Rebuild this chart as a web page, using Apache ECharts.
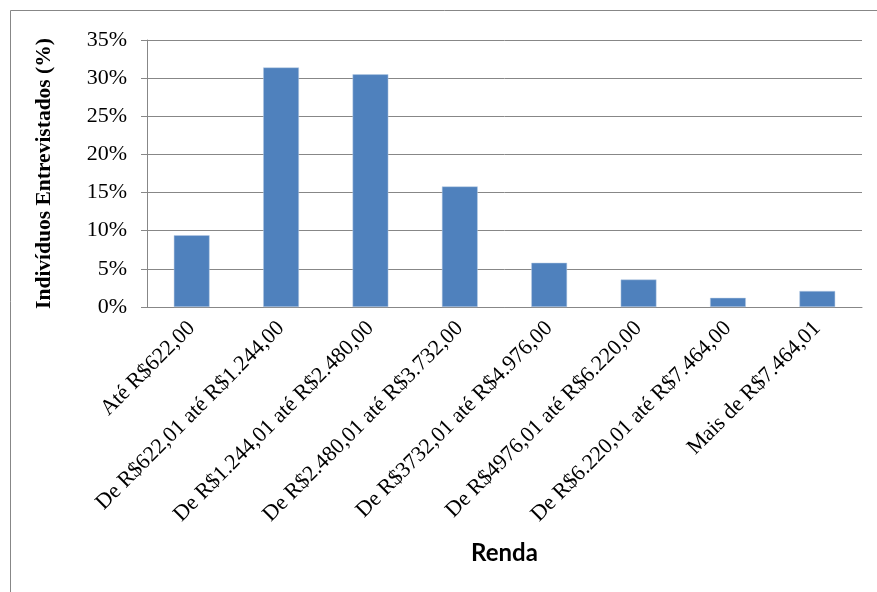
<!DOCTYPE html>
<html>
<head>
<meta charset="utf-8">
<script src="https://cdn.jsdelivr.net/npm/echarts@6/dist/echarts.min.js"></script>
<style>
  html, body { margin: 0; padding: 0; background: #fff; }
  #chart { width: 877px; height: 592px; }
  .preload { position: absolute; left: -9999px; top: -9999px; }
</style>
</head>
<body>
<div id="chart"></div>
<span class="preload" style="font-family:'Liberation Serif';">Até 35%</span>
<span class="preload" style="font-family:'Liberation Serif';font-weight:bold;">Indivíduos</span>
<span class="preload" style="font-family:Lato;font-weight:bold;">Renda</span>
<script>
// Income brackets (Renda) and the share of interviewees in each one (%)
const categories = [
  'Até R$622,00',
  'De R$622,01 até R$1.244,00',
  'De R$1.244,01 até R$2.480,00',
  'De R$2.480,01 até R$3.732,00',
  'De R$3732,01 até R$4.976,00',
  'De R$4976,01 até R$6.220,00',
  'De R$6.220,01 até R$7.464,00',
  'Mais de R$7.464,01'
];
const shares = [9.4, 31.4, 30.5, 15.8, 5.8, 3.6, 1.2, 2.1];
const yMin = 0;
const yMax = 35;
const yStep = 5;

const serif = 'Liberation Serif';
const gridGray = '#878787';

function draw() {
  const chart = echarts.init(document.getElementById('chart'), null, { renderer: 'canvas' });
  chart.setOption({
    animation: false,
    backgroundColor: '#fff',
    graphic: [{
      type: 'rect',
      shape: { x: 10.5, y: 10.5, width: 1000, height: 1000 },
      style: { fill: 'none', stroke: gridGray, lineWidth: 1 },
      silent: true
    }],
    grid: { left: 147, right: 15, top: 40, bottom: 285 },
    xAxis: {
      type: 'category',
      data: categories,
      name: 'Renda',
      nameLocation: 'middle',
      nameGap: 234,
      nameTextStyle: { fontFamily: 'Lato', fontWeight: 'bold', fontSize: 24, color: '#000' },
      axisLine: { show: true, lineStyle: { color: gridGray, width: 1 } },
      axisTick: { show: false },
      axisLabel: {
        rotate: 45,
        interval: 0,
        margin: 18,
        fontFamily: serif,
        fontSize: 22,
        color: '#000'
      }
    },
    yAxis: {
      type: 'value',
      min: yMin,
      max: yMax,
      interval: yStep,
      name: 'Indivíduos Entrevistados (%)',
      nameLocation: 'middle',
      nameGap: 92,
      nameTextStyle: { fontFamily: serif, fontWeight: 'bold', fontSize: 21.5, color: '#000' },
      axisLine: { show: true, lineStyle: { color: gridGray, width: 1 } },
      axisTick: { show: true, length: 6, lineStyle: { color: gridGray } },
      splitLine: { show: true, lineStyle: { color: gridGray, width: 1 } },
      axisLabel: {
        formatter: '{value}%',
        margin: 20,
        fontFamily: serif,
        fontSize: 22,
        color: '#000'
      }
    },
    series: [{
      type: 'bar',
      data: shares,
      barCategoryGap: '60%',
      itemStyle: { color: '#4F81BD', borderColor: '#B9CCE4', borderWidth: 0.5 }
    }]
  });
}

// Make sure the system fonts are resolved before the canvas draws text
Promise.all([
  document.fonts.load('22px "Liberation Serif"'),
  document.fonts.load('bold 21px "Liberation Serif"'),
  document.fonts.load('bold 24px Lato')
]).then(draw, draw);
</script>
</body>
</html>
